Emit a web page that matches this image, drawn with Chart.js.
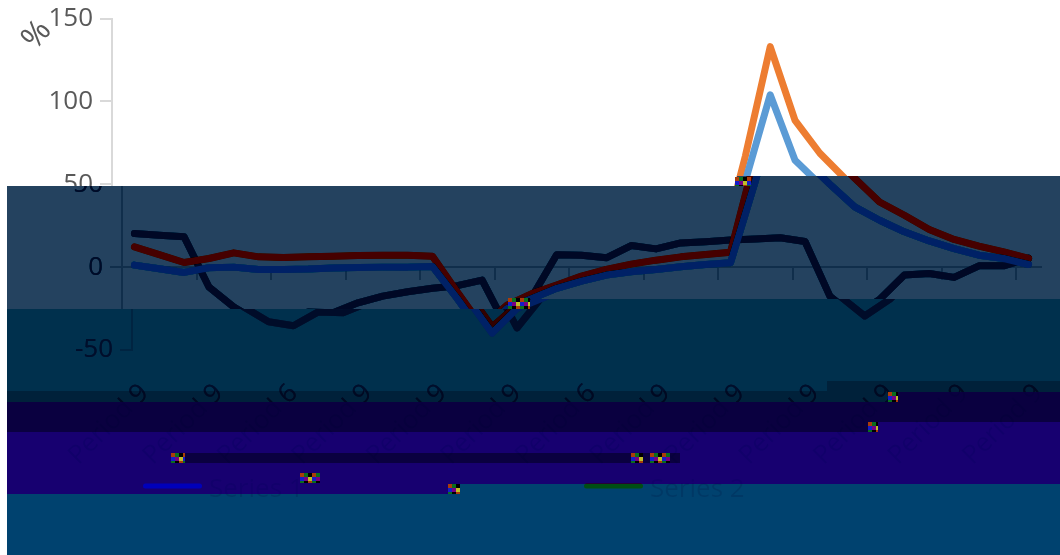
<!DOCTYPE html>
<html>
<head>
<meta charset="utf-8">
<style>html,body{margin:0;padding:0;background:#fff}canvas{display:block}</style>
<script src="https://cdn.jsdelivr.net/npm/chart.js@4"></script>
</head>
<body>
<div style="width:1060px;height:555px"><canvas id="c" width="1060" height="555"></canvas></div>
<script>
// The reference is a damaged image: its category and legend text cannot be read.
// Labels below are neutral placeholders keeping only the final digit that is visible.
const categories = Array.from({length: 37}, (_, i) => String(i));
const tickLabels = ['Period 9','Period 9','Period 6','Period 9','Period 9','Period 9','Period 6','Period 9','Period 9','Period 9','Period 9','Period 9','Period 9'];
const seriesNames = ['Series 1', 'Series 2', 'Series 3'];
const series1 = [1.2,-1,-3.2,-0.4,0,-1.4,-1.4,-1.2,-0.6,-0.2,0,0,0.4,-19,-39.8,-25,-19,-12.8,-8.4,-4.8,-2.8,-1.4,0.2,1.6,2.6,52,104,64.5,50,36.3,28.3,21.3,15.8,11.2,7.2,5.2,1.6];
const series2 = [12.2,7.5,2.8,5.2,8.6,6.2,5.8,6.2,6.6,7,7.2,7.2,6.6,-15,-36,-23,-16,-10.8,-5.4,-1.4,1.8,4.2,6.2,7.6,9,67,133,88.5,68.7,53.6,39.3,31.3,22.7,16.7,12.7,9.2,5.2];
const series3 = [20.3,19.3,18.3,-12,-24,-33,-35.4,-27,-27.5,-21.5,-17.5,-14.9,-12.8,-11.2,-7.8,-36.7,-18,7.5,7.2,5.6,13,11,14.6,15.3,16.3,16.9,17.7,15.5,-17.5,-29.5,-19.5,-4.8,-3.8,-6.2,0.8,0.8,5.4];
const yTicks = [-50, 0, 50, 100, 150];

const AXIS = '#D9D9D9', TEXT = '#595959';
const FONT = 'Open Sans';

// Damage stretches of the picture in raster order:
// start x, start y, sideways slip, fill colour, luma curve, blue and red chroma gain.
const damage = [
  [737,176,10,[36,66,95],2.5,.75,.9],
  [525,299,20,[0,48,77],2.5,.75,.9],
  [827,381,20,[0,33,58],2.5,.75,.75],
  [888,392,20,[10,0,64],.35,.75,.75],
  [868,422,20,[23,0,112],.35,.75,.75],
  [171,453,20,[10,0,64],.35,.75,.75],
  [680,453,20,[23,0,112],.3,1.1,.4],
  [450,484,20,[0,66,111],.2,.86,0]
];
// Small blocks of colour noise where the damage stretches begin: x, y, width, height.
const noiseBlocks = [[735,177,16,9],[508,298,22,11],[171,453,14,10],[631,453,12,10],[650,453,20,10],[300,473,20,10],[448,484,12,10],[888,392,10,10],[868,422,10,10]];
const noiseColours = [[170,60,10],[20,30,200],[10,110,30],[120,0,130],[0,0,0],[190,190,40]];
const ROW = 10, LEFT_EDGE = 7;
const toYcc = (r,g,b) => [.299*r+.587*g+.114*b, 128-.1687*r-.3313*g+.5*b, 128+.5*r-.4187*g-.0813*b];
const clamp = v => v<0?0:v>255?255:v;

const decoration = {
  id: 'decoration',
  beforeDraw(chart) {
    const c = chart.ctx; c.save(); c.fillStyle = '#fff'; c.fillRect(0,0,chart.width,chart.height); c.restore();
  },
  afterDraw(chart) {
    const c = chart.ctx;
    c.save();
    c.translate(37, 35); c.rotate(-Math.PI*50/180);
    c.font = '32px "'+FONT+'"'; c.fillStyle = TEXT; c.textAlign='center'; c.textBaseline='middle';
    c.fillText('%', 0, 0);
    c.restore();
    c.save();
    c.font = '26px "'+FONT+'"'; c.textBaseline='middle'; c.textAlign='left';
    [[123,0],[564,1]].forEach(([x,i]) => {
      c.strokeStyle = chart.data.datasets[i].borderColor; c.lineWidth = 5; c.lineCap='round';
      c.beginPath(); c.moveTo(x+2.5,486); c.lineTo(x+56.5,486); c.stroke();
      c.fillStyle = TEXT; c.fillText(seriesNames[i], x+66, 490);
    });
    c.restore();
    const W = chart.width, H = chart.height;
    const src = c.getImageData(0,0,W,H), out = c.createImageData(W,H);
    const s = src.data, o = out.data;
    const bands = damage.map(d => ({x:d[0],y:d[1],dx:d[2],ycc:toYcc(...d[3]),p:d[4],fb:d[5],fr:d[6]}));
    for (let y=0;y<H;y++) for (let x=0;x<W;x++) {
      const p=(y*W+x)*4;
      let b=null;
      for (const k of bands) if (y>=k.y+ROW || (y>=k.y && x>=k.x)) b=k;
      if (!b) { o[p]=s[p];o[p+1]=s[p+1];o[p+2]=s[p+2];o[p+3]=255; continue; }
      if (x<LEFT_EDGE) { o[p]=o[p+1]=o[p+2]=o[p+3]=255; continue; }
      const sx=x-b.dx;
      let r=255,g=255,bl=255;
      if (sx>=0){const q=(y*W+sx)*4;r=s[q];g=s[q+1];bl=s[q+2];}
      const [Y,Cb,Cr]=toYcc(r,g,bl);
      const Yn=b.ycc[0]*Math.pow(Y/255,b.p), Cbn=b.ycc[1]+(Cb-128)*b.fb, Crn=b.ycc[2]+(Cr-128)*b.fr;
      o[p]=clamp(Yn+1.402*(Crn-128));
      o[p+1]=clamp(Yn-.344*(Cbn-128)-.714*(Crn-128));
      o[p+2]=clamp(Yn+1.772*(Cbn-128));
      o[p+3]=255;
    }
    noiseBlocks.forEach(([bx,by,bw,bh]) => {
      for (let y=by;y<by+bh;y++) for (let x=bx;x<bx+bw;x++) {
        const col=noiseColours[(((x-bx)>>2)*2+((y-by)>>2)) % 6];
        const p=(y*W+x)*4; o[p]=col[0];o[p+1]=col[1];o[p+2]=col[2];
      }
    });
    c.putImageData(out,0,0);
  }
};

const line = (label, data, color) => ({label, data, borderColor: color, backgroundColor: color, borderWidth: 7, pointRadius: 0, tension: 0, borderCapStyle: 'round', borderJoinStyle: 'round', xAxisID: 'x', yAxisID: 'y'});

const noPad = s => { s.paddingLeft = s.paddingRight = s.paddingTop = s.paddingBottom = 0; };

new Chart(document.getElementById('c'), {
  type: 'line',
  data: { labels: categories, datasets: [
    line(seriesNames[0], series1, '#5B9BD5'),
    line(seriesNames[1], series2, '#ED7D31'),
    line(seriesNames[2], series3, '#404040')
  ]},
  plugins: [decoration],
  options: {
    responsive: false, animation: false, devicePixelRatio: 1,
    layout: { padding: { top: 18.5, right: 29, left: 0, bottom: 0 } },
    plugins: { legend: { display: false }, tooltip: { enabled: false } },
    scales: {
      y: {
        min: -50, max: 150,
        afterBuildTicks(s){ s.ticks = yTicks.map(v => ({value: v})); },
        afterFit(s){ s.width = 112; noPad(s); },
        border: { color: AXIS, width: 2 },
        grid: { drawOnChartArea: false, color: AXIS, tickColor: AXIS, tickLength: 12, lineWidth: 2 },
        ticks: { color: TEXT, font: { family: FONT, size: 26 }, padding: 7 }
      },
      x: {
        offset: true,
        afterFit(s){ s.height = 205; noPad(s); },
        border: { display: false },
        grid: { display: false, drawTicks: false },
        ticks: {
          autoSkip: false, minRotation: 45, maxRotation: 45, padding: 28,
          color: TEXT, font: { family: FONT, size: 26 },
          callback(v, i){ return i % 3 === 0 ? tickLabels[i / 3] : null; }
        }
      },
      x0: {
        type: 'category', labels: categories, axis: 'x', position: { y: 0 }, offset: true,
        border: { color: AXIS, width: 2 },
        grid: { offset: true, drawOnChartArea: false, lineWidth: 2, tickLength: 12,
                tickColor: ctx => (ctx.index % 3 === 0 ? AXIS : 'rgba(0,0,0,0)') },
        ticks: { display: false, autoSkip: false }
      }
    }
  }
});
</script>
</body>
</html>
